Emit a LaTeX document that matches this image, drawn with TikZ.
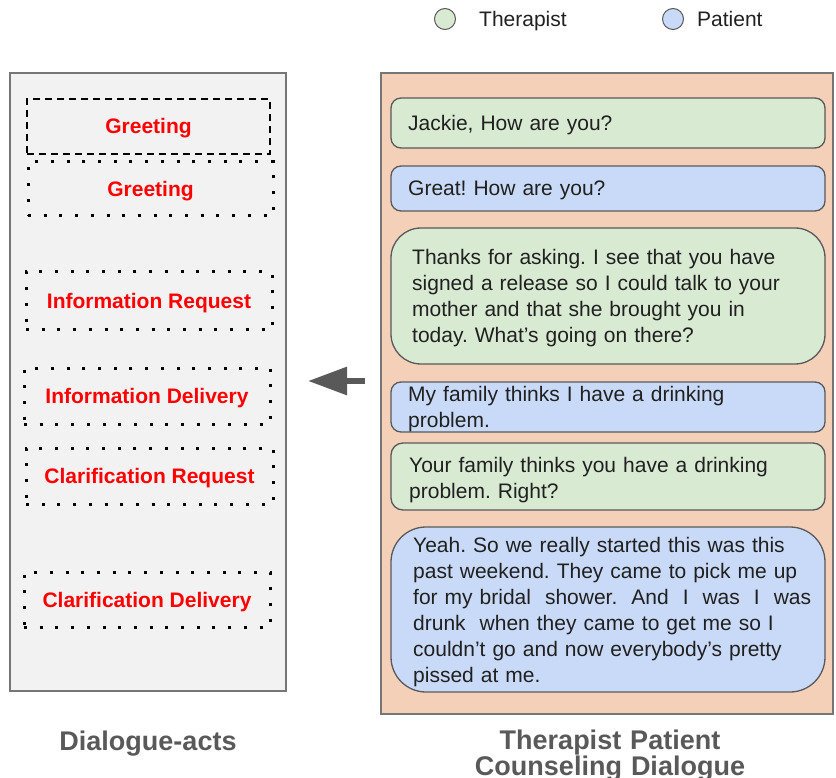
\documentclass[tikz,border=0pt]{standalone}
\usepackage{fontspec}
\setmainfont{Liberation Sans}
\usetikzlibrary{arrows.meta}
\frenchspacing
\definecolor{panelgray}{HTML}{F2F2F2}
\definecolor{panelpeach}{HTML}{F4D0B9}
\definecolor{thgreen}{HTML}{D9EAD3}
\definecolor{ptblue}{HTML}{C9DAF8}
\definecolor{edgegray}{HTML}{595959}
\definecolor{framegray}{HTML}{767676}
\definecolor{uttercol}{HTML}{202020}
\tikzset{
  panel/.style={draw=framegray, line width=1.3pt, inner sep=0pt},
  bubble/.style={draw=edgegray, line width=1.3pt, inner sep=0pt, minimum width=434pt},
  acttext/.style={text=red, font=\fontsize{21}{25}\selectfont\bfseries, text height=19pt, text depth=4pt},
  dotbox/.style={acttext, draw=black, line width=3pt, dash pattern=on 3pt off 12.7pt},
  dashbox/.style={acttext, draw=black, line width=1.8pt, dash pattern=on 7pt off 5pt},
  utter/.style={anchor=base west, inner sep=0pt, text width=420pt, align=left, font=\fontsize{21}{26}\selectfont\frenchspacing, text=uttercol},
  legendtext/.style={anchor=base west, inner sep=0pt, font=\fontsize{21}{25}\selectfont, text=uttercol},
  legenddot/.style={circle, draw=edgegray, line width=1pt, minimum size=21pt, inner sep=0pt},
  paneltitle/.style={anchor=base, inner sep=0pt, text width=400pt, align=center, font=\fontsize{27}{23}\selectfont\bfseries, text=edgegray},
}
\begin{document}
\begin{tikzpicture}[x=1pt,y=-1pt]
\useasboundingbox (0,0) rectangle (836,778);

% legend
\node[legenddot, fill=thgreen] (lgT) at (445,19) {};
\node[legendtext] (lgTt) at (479,27) {Therapist};
\node[legenddot, fill=ptblue] (lgP) at (673,19) {};
\node[legendtext] (lgPt) at (697,27) {Patient};

% left panel
\node[panel, fill=panelgray, minimum width=276pt, minimum height=618pt] (acts) at (148,382) {};
\node[dashbox, minimum width=243pt, minimum height=55pt] (a1) at (148.5,126.5) {Greeting};
\node[dotbox, minimum width=245pt, minimum height=54pt] (a2) at (150.5,189) {Greeting};
\node[dotbox, minimum width=246pt, minimum height=58pt] (a3) at (149,301) {Information Request};
\node[dotbox, minimum width=246pt, minimum height=56pt] (a4) at (147,396) {Information Delivery};
\node[dotbox, minimum width=247pt, minimum height=56pt] (a5) at (149.5,476) {Clarification Request};
\node[dotbox, minimum width=246pt, minimum height=55pt] (a6) at (147,599.5) {Clarification Delivery};

% right panel
\node[panel, fill=panelpeach, minimum width=452pt, minimum height=641pt] (dlg) at (607,393.5) {};
\node[bubble, fill=thgreen, rounded corners=10pt, minimum height=50pt] (b1) at (608,123) {};
\node[bubble, fill=ptblue, rounded corners=10pt, minimum height=45pt] (b2) at (608,188.5) {};
\node[bubble, fill=thgreen, rounded corners=30pt, minimum height=136pt] (b3) at (608,296) {};
\node[bubble, fill=ptblue, rounded corners=10pt, minimum height=50pt] (b4) at (608,407) {};
\node[bubble, fill=thgreen, rounded corners=12pt, minimum height=67pt] (b5) at (608,476.5) {};
\node[bubble, fill=ptblue, rounded corners=35pt, minimum height=165pt] (b6) at (608,609.5) {};

\node[utter] (t1) at (408,131) {Jackie, How are you?};
\node[utter] (t2) at (408,196) {Great! How are you?};
\node[utter] (t3) at (412,265) {Thanks for asking. I see that you have\\signed a release so I could talk to your\\mother and that she brought you in\\today. What’s going on there?};
\node[utter] (t4) at (408,401) {My family thinks I have a drinking\\problem.};
\node[utter] (t5) at (409,472) {Your family thinks you have a drinking\\problem. Right?};
\node[utter] (t6) at (413,552) {Yeah. So we really started this was this\\past weekend. They came to pick me up\\for my bridal\ \ shower.\ \ And\ \ I\ \ was\ \ I\ \ was\\drunk\ \ when they came to get me so I\\couldn’t go and now everybody’s pretty\\pissed at me.};

% arrow
\coordinate (atail) at (365,381);
\coordinate (atip) at (308,381);
\draw[draw=edgegray, fill=edgegray, line width=6pt, -{Triangle[length=39pt,width=27pt]}] (atail) -- (atip);

% titles
\node[paneltitle] (ttl1) at (148,750) {Dialogue-acts};
\node[paneltitle] (ttl2) at (610,749) {Therapist Patient\\Counseling Dialogue};
\end{tikzpicture}
\end{document}
